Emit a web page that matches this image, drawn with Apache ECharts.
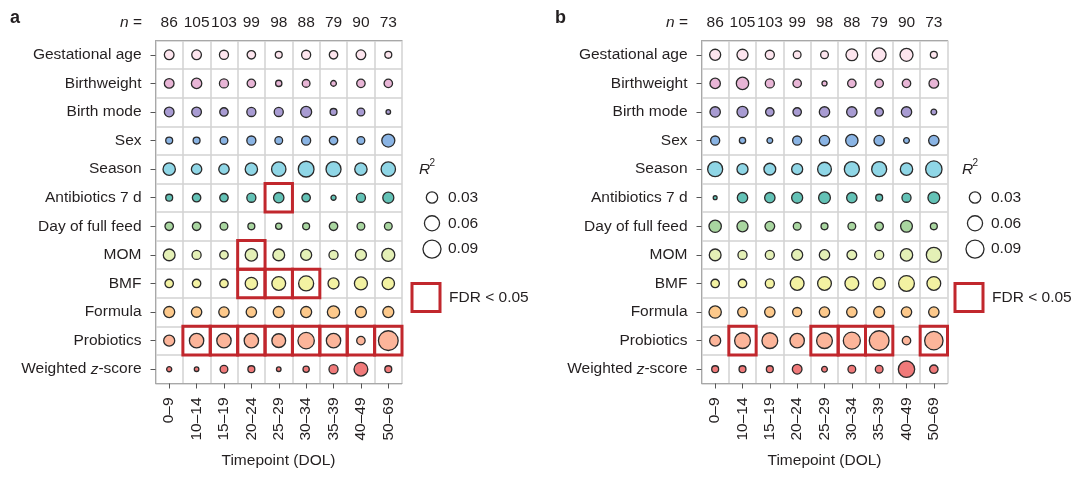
<!DOCTYPE html>
<html>
<head>
<meta charset="utf-8">
<script src="https://cdn.jsdelivr.net/npm/echarts@6/dist/echarts.min.js"></script>
<style>html,body{margin:0;padding:0;background:#fff;}#c{width:1080px;height:481px;}</style>
</head>
<body>
<div id="c"></div>
<script>
const timepoints = ['0–9','10–14','15–19','20–24','25–29','30–34','35–39','40–49','50–69'];
const nCounts = ['86','105','103','99','98','88','79','90','73'];
const variables = ['Gestational age','Birthweight','Birth mode','Sex','Season','Antibiotics 7 d','Day of full feed','MOM','BMF','Formula','Probiotics','Weighted z-score'];
const rowColors = ['#fde5ee','#e8b5d6','#a89bd2','#8ab4e4','#8fd6e6','#63c2b6','#a9d6a0','#e4f0b6','#f3f2a2','#fdc98b','#fcb59a','#f07a7a'];
const legendValues = [0.03, 0.06, 0.09];

// R^2 per variable (rows) x timepoint (columns), panel a
const r2A = [
  [.020,.020,.017,.014,.008,.017,.014,.020,.008],
  [.020,.024,.017,.014,.006,.011,.0045,.014,.014],
  [.020,.020,.014,.017,.017,.028,.008,.011,.002],
  [.008,.008,.011,.017,.011,.017,.014,.011,.042],
  [.037,.024,.024,.037,.053,.066,.059,.037,.053],
  [.008,.014,.014,.017,.024,.014,.003,.017,.028],
  [.014,.014,.011,.008,.006,.008,.014,.011,.011],
  [.033,.017,.014,.037,.033,.028,.017,.028,.042],
  [.014,.014,.014,.037,.048,.059,.028,.042,.037],
  [.028,.024,.024,.024,.028,.028,.037,.028,.028],
  [.028,.053,.053,.053,.048,.072,.053,.014,.110],
  [.003,.002,.011,.008,.002,.006,.017,.048,.008]
];
// panel b
const r2B = [
  [.028,.028,.017,.011,.011,.033,.048,.042,.008],
  [.024,.037,.017,.014,.003,.014,.014,.014,.020],
  [.024,.028,.014,.014,.024,.024,.014,.024,.0045],
  [.017,.006,.0045,.017,.024,.037,.024,.0045,.024],
  [.059,.028,.033,.028,.048,.059,.059,.037,.072],
  [.001,.024,.024,.028,.033,.024,.008,.017,.033],
  [.037,.028,.020,.011,.008,.011,.014,.033,.008],
  [.033,.017,.017,.028,.024,.020,.017,.037,.059],
  [.014,.014,.017,.048,.048,.048,.037,.066,.048],
  [.037,.020,.024,.017,.024,.024,.028,.024,.024],
  [.028,.066,.066,.053,.066,.079,.110,.014,.094],
  [.008,.008,.008,.020,.0045,.011,.011,.072,.014]
];
// FDR < 0.05 cells: [timepoint index, variable index]
const fdrA = [[4,5],[3,7],[3,8],[4,8],[5,8],[1,10],[2,10],[3,10],[4,10],[5,10],[6,10],[7,10],[8,10]];
const fdrB = [[1,10],[4,10],[5,10],[6,10],[8,10]];

const FONT = 'Liberation Sans, Arial, Helvetica, sans-serif';
const TXT = '#231f20';
const FS = 15.5;
function sz(v){ return 2.2 + 52.8*Math.sqrt(v); }

const grids = [
  {left:155.5, top:40.5, width:246.5, height:343},
  {left:701.5, top:40.5, width:246, height:343}
];

const xAxes = [], yAxes = [], series = [];
[r2A, r2B].forEach((mat, gi) => {
  xAxes.push({
    type:'category', gridIndex:gi, data:timepoints, position:'bottom',
    axisLine:{show:true, lineStyle:{color:'#a8a8a8', width:1}},
    axisTick:{show:true, alignWithLabel:true, length:5, lineStyle:{color:'#555'}, interval:0},
    axisLabel:{rotate:90, interval:0, margin:14, fontSize:FS, color:TXT, fontFamily:FONT},
    splitLine:{show:true, interval:0, lineStyle:{color:'#d2d2d2', width:1.5}}
  });
  xAxes.push({
    type:'category', gridIndex:gi, data:nCounts, position:'top',
    axisLine:{show:true, lineStyle:{color:'#a8a8a8', width:1}},
    axisTick:{show:false},
    axisLabel:{interval:0, margin:10, fontSize:FS, color:TXT, fontFamily:FONT},
    splitLine:{show:false}
  });
  yAxes.push({
    type:'category', gridIndex:gi, data:variables, inverse:true,
    axisLine:{show:true, lineStyle:{color:'#a8a8a8', width:1}},
    axisTick:{show:true, alignWithLabel:true, length:5, lineStyle:{color:'#555'}, interval:0},
    axisLabel:{interval:0, margin:14, fontSize:FS, color:TXT, fontFamily:FONT,
      formatter: v => v === 'Weighted z-score' ? 'Weighted {i|z}-score' : v,
      rich:{i:{fontStyle:'italic', fontSize:FS, color:TXT, fontFamily:FONT}}},
    splitLine:{show:true, interval:0, lineStyle:{color:'#d2d2d2', width:1.5}}
  });
  const data = [];
  mat.forEach((row, r) => row.forEach((v, c) => data.push([c, r, v])));
  series.push({
    type:'scatter', xAxisIndex:gi*2, yAxisIndex:gi, data:data,
    symbol:'circle', symbolSize: d => sz(d[2]),
    itemStyle:{color: p => rowColors[p.data[1]], borderColor:'#2a2a2a', borderWidth:1.3, opacity:1},
    emphasis:{disabled:true}, z:3
  });
  series.push({
    type:'custom', xAxisIndex:gi*2, yAxisIndex:gi, data: gi===0 ? fdrA : fdrB, z:4,
    renderItem: (params, api) => {
      const p = api.coord([api.value(0), api.value(1)]);
      const s = api.size([1,1]);
      return {type:'rect', shape:{x:p[0]-s[0]/2, y:p[1]-s[1]/2, width:s[0], height:s[1]},
        style:{fill:'none', stroke:'#c1272d', lineWidth:3}};
    }
  });
});

const graphic = [];
function txt(x, y, text, opts){
  graphic.push(Object.assign({type:'text', x:x, y:y, style:Object.assign({text:text, font:FS+'px '+FONT, fill:TXT, textAlign:'left', textVerticalAlign:'middle'}, opts||{})}));
}
[{lx:10, nx:142, cx:278.5, legX:419}, {lx:555, nx:688, cx:824.5, legX:962}].forEach((g, i) => {
  txt(g.lx, 18, i===0 ? 'a' : 'b', {font:'bold 18px '+FONT});
  graphic.push({type:'text', x:g.nx, y:22.5, style:{text:'{i|n} =', textAlign:'right', textVerticalAlign:'middle',
    font:FS+'px '+FONT, fill:TXT, rich:{i:{fontStyle:'italic', fontSize:FS, fontFamily:FONT, fill:TXT}}}});
  txt(g.cx, 461, 'Timepoint (DOL)', {textAlign:'center'});
  // legend
  txt(g.legX, 170, 'R', {font:'italic '+FS+'px '+FONT});
  txt(g.legX+10.5, 163, '2', {font:'10px '+FONT});
  legendValues.forEach((v, k) => {
    const cy = 197.5 + k*25.8;
    graphic.push({type:'circle', shape:{cx:g.legX+13, cy:cy, r:sz(v)/2}, style:{fill:'#fff', stroke:'#2a2a2a', lineWidth:1.3}});
    txt(g.legX+29, cy, v.toFixed(2));
  });
  graphic.push({type:'rect', shape:{x:g.legX-7, y:283.5, width:28, height:28}, style:{fill:'none', stroke:'#c1272d', lineWidth:3}});
  txt(g.legX+30, 297.5, 'FDR < 0.05');
});

const chart = echarts.init(document.getElementById('c'), null, {renderer:'canvas'});
chart.setOption({
  animation:false,
  backgroundColor:'#fff',
  grid:grids,
  xAxis:xAxes,
  yAxis:yAxes,
  series:series,
  graphic:graphic
});
</script>
</body>
</html>
